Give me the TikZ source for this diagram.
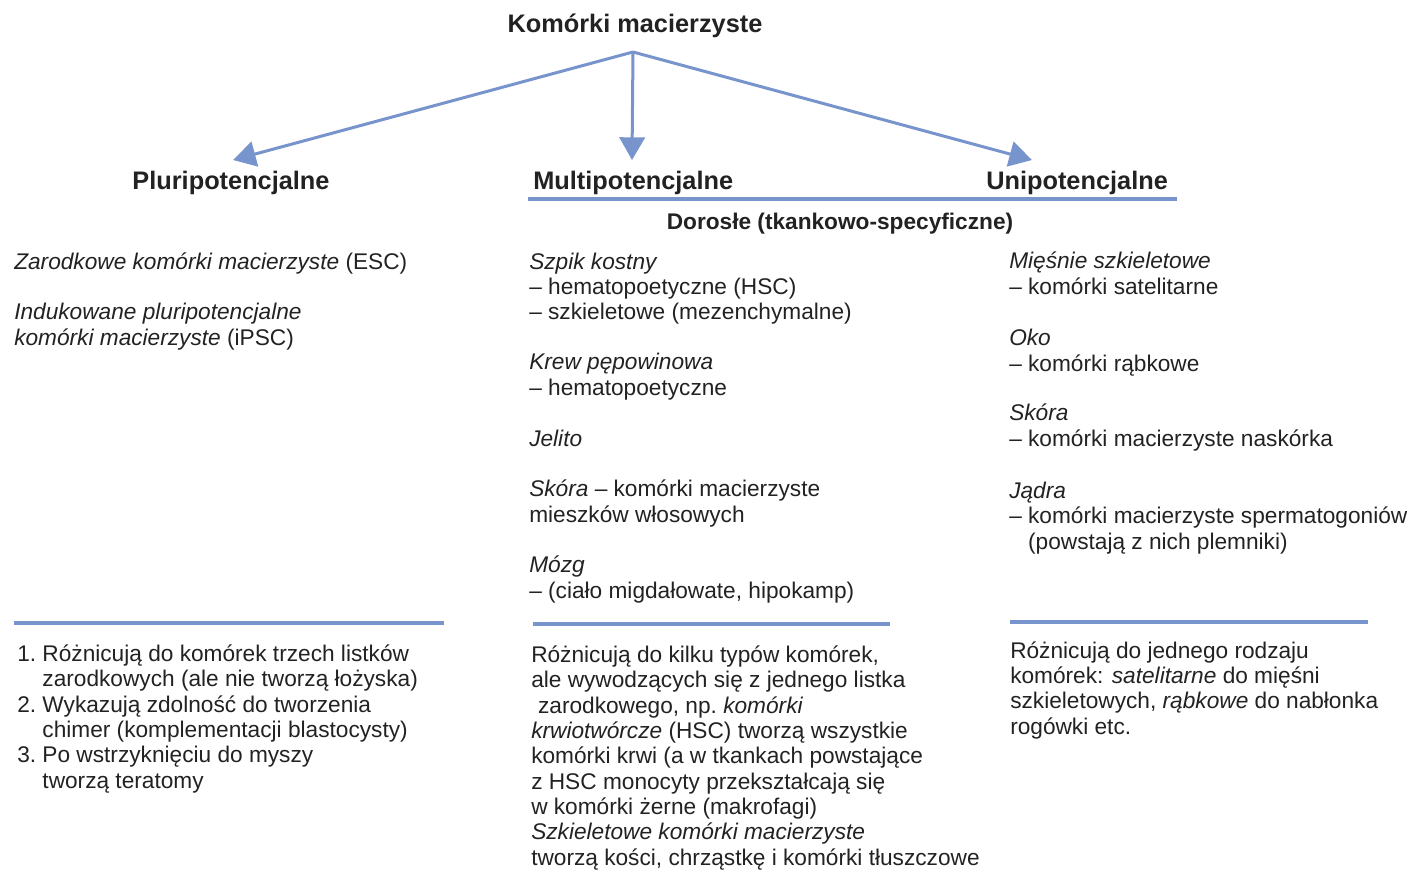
\documentclass[tikz,border=0pt]{standalone}
\usepackage{fontspec}
\setmainfont{Liberation Sans}
\usetikzlibrary{arrows.meta}
\definecolor{linie}{RGB}{120,148,204}
\definecolor{tekst}{RGB}{34,34,34}
\begin{document}
\begin{tikzpicture}
      [%%%%%%%%%%%%%%%%%%%%%%%%%%%%%%
      x=0.75pt,y=-0.75pt,
      txt/.style={anchor=base west,align=left,inner sep=0pt,text=tekst,
        font=\fontsize{17}{19}\selectfont},
      head/.style={anchor=base,inner sep=0pt,text=tekst,
        font=\fontsize{19}{22}\selectfont\bfseries},
      strz/.style={draw=linie,line width=2.25pt,
        -{Triangle[length=17pt,width=19pt]}},
      kreska/.style={draw=linie,line width=2.4pt},
      ]%%%%%%%%%%%%%%%%%%%%%%%%%%%%%%
      \useasboundingbox (0,0) rectangle (1411,870);

      % naglowki (base = ostatnia linia)
      \node[head] (kom) at (635,33) {Komórki macierzyste};
      \node[head] (pluri) at (231,190) {Pluripotencjalne};
      \node[head,anchor=base west] (multi) at (533,190) {Multipotencjalne};
      \node[head,anchor=base west] (uni) at (986,190) {Unipotencjalne};
      \node[head,font=\fontsize{17}{19}\selectfont\bfseries] (dor) at (840,229)
        {Dorosłe (tkankowo-specyficzne)};

      % strzalki
      \coordinate (wierzch) at (633,52);
      \coordinate (grotL) at (233,160);
      \coordinate (grotM) at (632,160);
      \coordinate (grotP) at (1032,160);
      \draw[strz] (wierzch) -- (grotL);
      \draw[strz] (wierzch) -- (grotM);
      \draw[strz] (wierzch) -- (grotP);

      % linie
      \draw[kreska] (528,199) -- (1177,199);
      \draw[kreska] (14,623) -- (444,623);
      \draw[kreska] (533,624) -- (890,624);
      \draw[kreska] (1010,622) -- (1368,622);

      % lewa kolumna
      \node[txt] (esc) at (14,269) {\textit{Zarodkowe komórki macierzyste} (ESC)};
      \node[txt] (ipsc) at (14,345) {\textit{Indukowane pluripotencjalne}\\
        \textit{komórki macierzyste} (iPSC)};

      % srodkowa kolumna
      \node[txt] (szpik) at (529,320) {\textit{Szpik kostny}\\
        – hematopoetyczne (HSC)\\ – szkieletowe (mezenchymalne)};
      \node[txt] (krew) at (529,395) {\textit{Krew pępowinowa}\\ – hematopoetyczne};
      \node[txt] (jelito) at (529,446) {\textit{Jelito}};
      \node[txt] (skoraM) at (529,522) {\textit{Skóra} – komórki macierzyste\\
        mieszków włosowych};
      \node[txt] (mozg) at (529,598) {\textit{Mózg}\\
        – (ciało migdałowate, hipokamp)};

      % prawa kolumna
      \node[txt] (miesnie) at (1009,294) {\textit{Mięśnie szkieletowe}\\
        – komórki satelitarne};
      \node[txt] (oko) at (1009,371) {\textit{Oko}\\ – komórki rąbkowe};
      \node[txt] (skoraP) at (1009,446) {\textit{Skóra}\\
        – komórki macierzyste naskórka};
      \node[txt] (jadra) at (1009,549) {\textit{Jądra}\\
        – komórki macierzyste spermatogoniów\\
        \phantom{–\ }(powstają z nich plemniki)};

      % opisy pod liniami
      \node[txt] (cechyL) at (17,788) {1.\ Różnicują do komórek trzech listków\\
        \phantom{1.\ }zarodkowych (ale nie tworzą łożyska)\\
        2.\ Wykazują zdolność do tworzenia\\
        \phantom{2.\ }chimer (komplementacji blastocysty)\\
        3.\ Po wstrzyknięciu do myszy\\
        \phantom{3.\ }tworzą teratomy};
      \node[txt] (cechyM) at (531,865) {Różnicują do kilku typów komórek,\\
        ale wywodzących się z jednego listka\\
        \hspace*{0.3em}zarodkowego, np.\ \textit{komórki}\\
        \textit{krwiotwórcze} (HSC) tworzą wszystkie\\
        komórki krwi (a w tkankach powstające\\
        z HSC monocyty przekształcają się\\
        w komórki żerne (makrofagi)\\
        \textit{Szkieletowe komórki macierzyste}\\
        tworzą kości, chrząstkę i komórki tłuszczowe};
      \node[txt] (cechyP) at (1010,734) {Różnicują do jednego rodzaju\\
        komórek: \textit{satelitarne} do mięśni\\
        szkieletowych, \textit{rąbkowe} do nabłonka\\
        rogówki etc.};
    \end{tikzpicture}
\end{document}
